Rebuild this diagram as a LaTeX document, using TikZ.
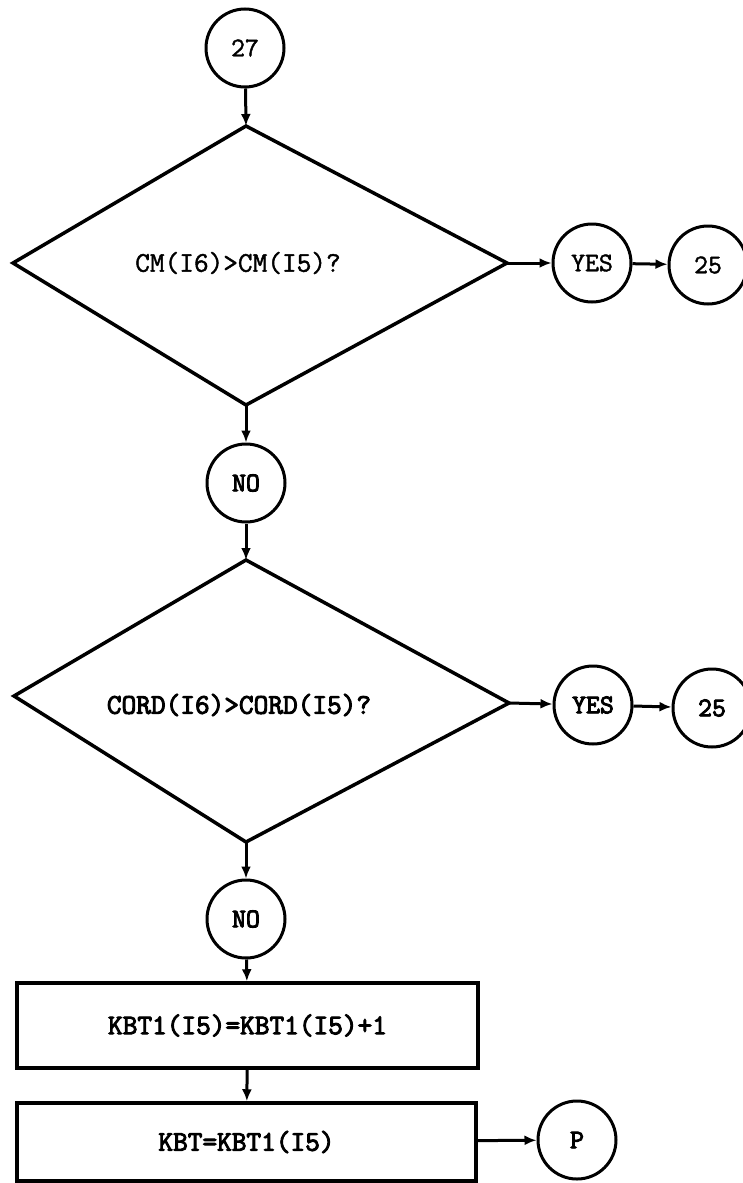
\documentclass[tikz,border=0pt]{standalone}
\usepackage{fontspec}
\newfontfamily\tyreg{Latin Modern Mono}[FakeBold=1.5]
\newfontfamily\tybold{Latin Modern Mono}[FakeBold=3.5]
\usetikzlibrary{arrows.meta}
\begin{document}
\begin{tikzpicture}[x=1pt,y=-1pt,
  conn/.style={draw, circle, line width=3pt, minimum size=78pt, inner sep=0pt,
    font=\tyreg\fontsize{27}{27}\selectfont},
  bconn/.style={conn, font=\tybold\fontsize{27}{27}\selectfont},
  dia/.style={line width=3.5pt, line join=miter},
  dtext/.style={font=\tyreg\fontsize{28.5}{28.5}\selectfont},
  bdtext/.style={font=\tybold\fontsize{28.5}{28.5}\selectfont},
  procbox/.style={draw, rectangle, line width=3.5pt, inner sep=0pt,
    font=\tybold\fontsize{28.5}{28.5}\selectfont},
  flow/.style={line width=3pt, -{Latex[length=12pt,width=10pt]}}
]
\useasboundingbox (0,0) rectangle (743,1183);
\fill[white] (0,0) rectangle (743,1183);

% top connector
\node[conn] (c27) at (245,48) {27};

% first decision
\coordinate (d1t) at (246,126);
\coordinate (d1l) at (13,263);
\coordinate (d1r) at (507,263);
\coordinate (d1b) at (246,405);
\draw[dia] (d1t) -- (d1r) -- (d1b) -- (d1l) -- cycle;
\node[dtext] (d1) at (238,263) {CM(I6)>CM(I5)?};
\node[conn] (yes1) at (592,263) {YES};
\node[conn] (t25a) at (708,265) {25};

\node[bconn] (no1) at (246,483) {NO};

% second decision
\coordinate (d2t) at (246,560);
\coordinate (d2l) at (14,696);
\coordinate (d2r) at (509,703);
\coordinate (d2b) at (246,842);
\draw[dia] (d2t) -- (d2r) -- (d2b) -- (d2l) -- cycle;
\node[bdtext] (d2) at (239,705) {CORD(I6)>CORD(I5)?};
\node[bconn] (yes2) at (593,705) {YES};
\node[bconn] (t25b) at (712,708) {25};

\node[bconn] (no2) at (246,919) {NO};

% process boxes
\node[procbox, minimum width=461pt, minimum height=85pt] (box1) at (247.5,1025.5) {KBT1(I5)=KBT1(I5)+1};
\node[procbox, minimum width=459pt, minimum height=78pt] (box2) at (246.5,1142) {KBT=KBT1(I5)};
\node[bconn] (p) at (577,1140) {P};

% connectors
\draw[flow] (c27) -- (d1t);
\draw[flow] (d1r) -- (yes1);
\draw[flow] (yes1) -- (t25a);
\draw[flow] (d1b) -- (no1);
\draw[flow] (no1) -- (d2t);
\draw[flow] (d2r) -- (yes2);
\draw[flow] (yes2) -- (t25b);
\draw[flow] (d2b) -- (no2);
\draw[flow] (no2) -- (box1);
\draw[flow] (box1) -- (box2);
\draw[flow] (box2) -- (p);
\end{tikzpicture}
\end{document}
